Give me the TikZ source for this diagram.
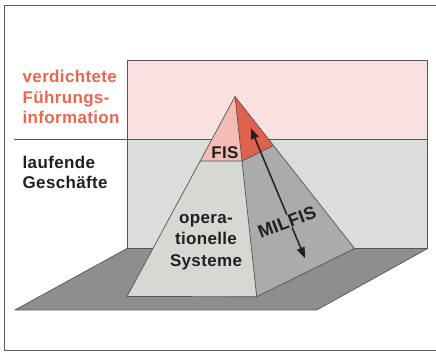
\documentclass[tikz,border=0pt]{standalone}
\usepackage{fontspec}
\setmainfont{Liberation Sans}[LetterSpace=2]
\usetikzlibrary{calc,arrows.meta}
\definecolor{framec}{HTML}{5A5A66}
\definecolor{edgec}{HTML}{555555}
\definecolor{bandc}{HTML}{F8E1E0}
\definecolor{wallc}{HTML}{DADDDA}
\definecolor{floorc}{HTML}{8E8E8E}
\definecolor{lface}{HTML}{D6D8D4}
\definecolor{rface}{HTML}{ABABAB}
\definecolor{lcap}{HTML}{F3BDB3}
\definecolor{rcap}{HTML}{E0624D}
\definecolor{redtext}{HTML}{E5684F}
\definecolor{darktext}{HTML}{231F20}
\begin{document}
\begin{tikzpicture}[x=1pt,y=-1pt,
  edge/.style={draw=edgec,line width=0.7pt,line join=round},
  lbl/.style={inner sep=0pt,font=\fontsize{17}{20}\selectfont\bfseries,text=darktext},
  redlbl/.style={lbl,text=redtext},
  arr/.style={line width=1.5pt,draw=darktext,{Triangle[length=11pt,width=8pt]}-{Triangle[length=11pt,width=8pt]}}]
\useasboundingbox (0,0) rectangle (436,352);
% frame
\draw[framec,line width=0.9pt] (437,5) -- (4,5) -- (4,350.5) -- (437,350.5);
% wall
\coordinate (W1) at (127,60);
\coordinate (W2) at (427.7,60);
\coordinate (W3) at (427.7,248.5);
\coordinate (W4) at (127,248.5);
\coordinate (B1) at (127,139.5);
\coordinate (B2) at (427.7,139.5);
\coordinate (H0) at (14,139.5);
\fill[bandc] (W1) rectangle (B2);
\fill[wallc] (B1) rectangle (W3);
\draw[edge] (W4) -- (W1) -- (W2) -- (W3);
\draw[edge] (H0) -- (B2);
% floor
\coordinate (F1) at (15,310);
\coordinate (F2) at (316.7,310);
\filldraw[edge,fill=floorc] (W4) -- (W3) -- (F2) -- (F1) -- cycle;
% pyramid
\coordinate (A) at (235,96.5);
\coordinate (L) at (127,296.5);
\coordinate (F) at (256.7,296.7);
\coordinate (R) at (354.5,248.5);
\coordinate (CL) at ($(A)!0.3225!(L)$);
\coordinate (CM) at ($(A)!0.3225!(F)$);
\coordinate (CR) at ($(A)!0.3225!(R)$);
\fill[lface] (A) -- (L) -- (F) -- cycle;
\fill[rface] (A) -- (F) -- (R) -- cycle;
\fill[lcap] (A) -- (CL) -- (CM) -- cycle;
\fill[rcap] (A) -- (CM) -- (CR) -- cycle;
\draw[edge] (CL) -- (CM) -- (CR);
\draw[edge] (A) -- (L) -- (F) -- (R) -- cycle;
\draw[edge] (A) -- (F);
% arrow
\coordinate (T1) at (250.7,128);
\coordinate (T2) at (305,258.3);
\draw[arr] (T1) -- (T2);
% texts
\node[redlbl,anchor=base west] (v1) at (22.5,82.7) {verdichtete};
\node[redlbl,anchor=base west] (v2) at (22.5,103.2) {Führungs-};
\node[redlbl,anchor=base west] (v3) at (22.5,123.5) {information};
\node[lbl,anchor=base west] (g1) at (22.5,168.3) {laufende};
\node[lbl,anchor=base west] (g2) at (22.5,188.5) {Geschäfte};
\node[lbl,anchor=base] (fis) at (225,159) {FIS};
\node[lbl,anchor=base] (o1) at (206,223.5) {opera-};
\node[lbl,anchor=base] (o2) at (206,245) {tionelle};
\node[lbl,anchor=base] (o3) at (206,266.5) {Systeme};
\node[lbl,font=\fontsize{18}{20}\selectfont\bfseries,fill=rface,inner sep=0.5pt,rotate=21] (milfis) at (287,222) {MILFIS};
\end{tikzpicture}
\end{document}
